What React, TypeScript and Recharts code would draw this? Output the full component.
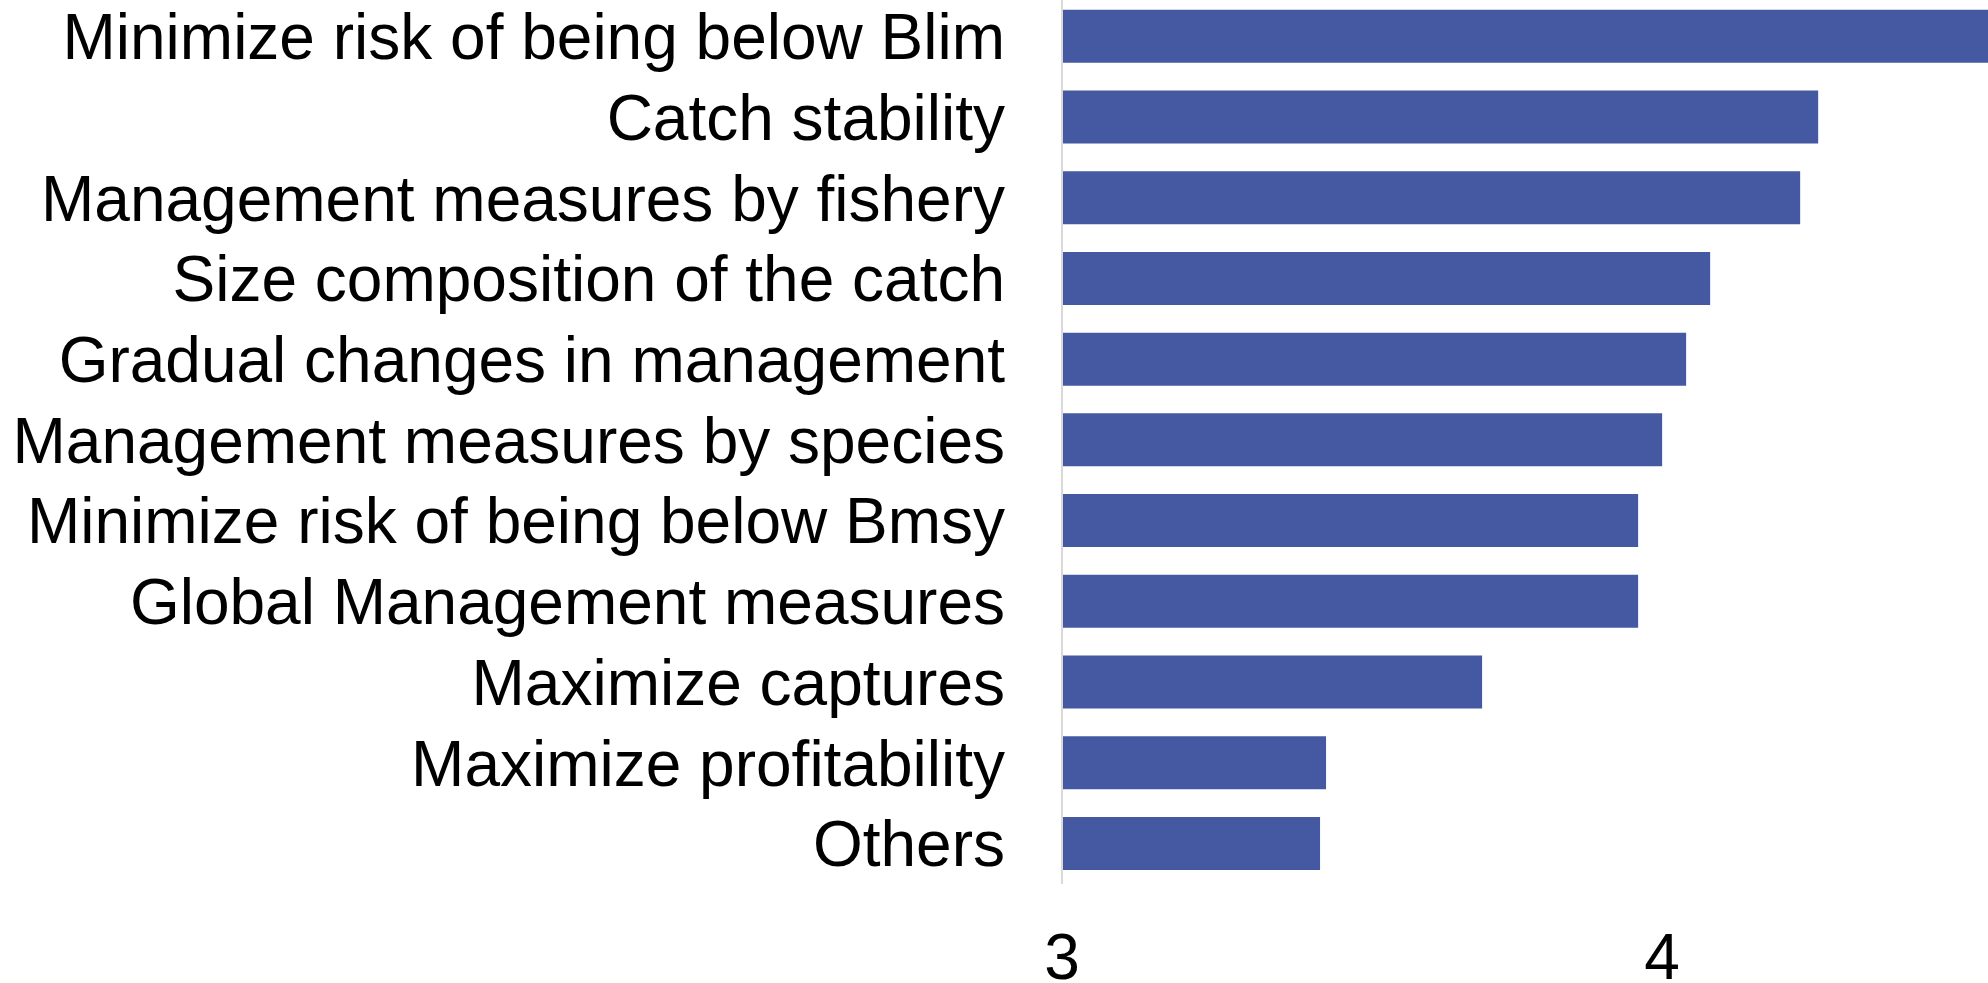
import { BarChart, Bar, XAxis, YAxis } from 'recharts'

const categories = [
  'Minimize risk of being below Blim',
  'Catch stability',
  'Management measures by fishery',
  'Size composition of the catch',
  'Gradual changes in management',
  'Management measures by species',
  'Minimize risk of being below Bmsy',
  'Global Management measures',
  'Maximize captures',
  'Maximize profitability',
  'Others',
]
const scores = [4.6, 4.26, 4.23, 4.08, 4.04, 4.0, 3.96, 3.96, 3.7, 3.44, 3.43]
const xTicks = [3, 4]

const BAR = '#4558A2'
const FONT = '"Liberation Sans", Arial, sans-serif'

const data = categories.map((name, i) => ({ name, score: scores[i] }))

export default function App() {
  return (
    <div style={{ position: 'absolute', left: 0, top: 0, background: '#fff' }}>
      <BarChart
        width={1988}
        height={983}
        data={data}
        layout="vertical"
        margin={{ top: -4, right: 0, bottom: 0, left: 0 }}
        barCategoryGap="17%"
      >
        <XAxis
          type="number"
          domain={[3, 4.543]}
          ticks={xTicks}
          allowDataOverflow
          axisLine={false}
          tickLine={false}
          tickSize={0}
          tickMargin={50}
          height={99}
          tick={{ fontSize: 64, fill: '#000', fontFamily: FONT }}
        />
        <YAxis
          type="category"
          dataKey="name"
          width={1062}
          axisLine={{ stroke: '#d9d9d9', strokeWidth: 2 }}
          tickLine={false}
          tickSize={0}
          tickMargin={57}
          interval={0}
          tick={{ fontSize: 64, fill: '#000', fontFamily: FONT }}
        />
        <Bar dataKey="score" fill={BAR} isAnimationActive={false} />
      </BarChart>
    </div>
  )
}
